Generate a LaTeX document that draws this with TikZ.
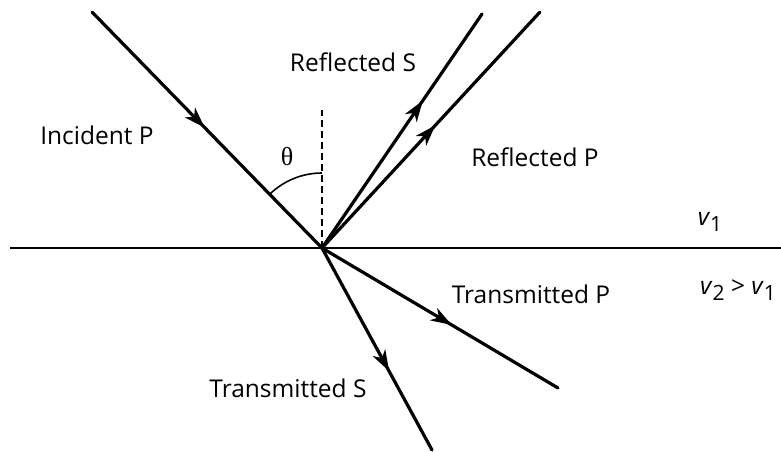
\documentclass[tikz,border=0pt]{standalone}
\usepackage{fontspec}
\setmainfont{Open Sans}
\newfontfamily\greekserif{Liberation Serif}
\usetikzlibrary{arrows.meta,decorations.markings}

\newcommand{\velsub}[2]{\textit{#1}\raisebox{-0.4ex}{\fontsize{21}{21}\selectfont #2}}

\tikzset{
  ray/.style={line width=3.2pt, line cap=round},
  midarrow/.style={postaction={decorate}, decoration={markings,
      mark=at position #1 with {\arrow{Stealth[length=21pt,width=14pt,inset=6pt]}}}},
  lbl/.style={font=\fontsize{24.5}{26}\selectfont, inner sep=0pt},
  guide/.style={line width=1.6pt, dash pattern=on 7pt off 4pt},
  interface/.style={line width=2pt},
}

\begin{document}
\begin{tikzpicture}[x=1pt,y=1pt]
  \useasboundingbox (0,0) rectangle (781,451);

  % point of incidence and ray end points
  \coordinate (O)   at (322,203);
  \coordinate (inc) at (92,439);
  \coordinate (rS)  at (482,437);
  \coordinate (rP)  at (540,439);
  \coordinate (tP)  at (558,63);
  \coordinate (tS)  at (432,1);
  \coordinate (nrm) at (322,341);
  \coordinate (ifL) at (10,203);
  \coordinate (ifR) at (781,203);

  % interface between the two media
  \draw[interface] (ifL) -- (ifR);

  % normal to the interface
  \draw[guide] (O) -- (nrm);

  % angle of incidence
  \draw[line width=1.6pt] ([shift={(90:75)}]O) arc[start angle=90, end angle=134.3, radius=75];

  % rays
  \draw[ray, midarrow=0.49] (inc) -- (O);
  \draw[ray, midarrow=0.63] (O) -- (rS);
  \draw[ray, midarrow=0.52] (O) -- (rP);
  \draw[ray, midarrow=0.55] (O) -- (tP);
  \draw[ray, midarrow=0.61] (O) -- (tS);

  % labels
  \node[lbl] (lrS) at (353,389) {Reflected S};
  \node[lbl] (linc) at (97,316) {Incident P};
  \node[lbl] (lrP) at (535,294) {Reflected P};
  \node[lbl] (ltP) at (531,157) {Transmitted P};
  \node[lbl] (ltS) at (288,63) {Transmitted S};
  \node[inner sep=0pt, font=\greekserif\fontsize{26}{28}\selectfont] (lth) at (287,294) {θ};
  \node[lbl] (lv1) at (710,229) {\velsub{v}{1}};
  \node[lbl] (lv2) at (738,161) {\velsub{v}{2} > \velsub{v}{1}};
\end{tikzpicture}
\end{document}
